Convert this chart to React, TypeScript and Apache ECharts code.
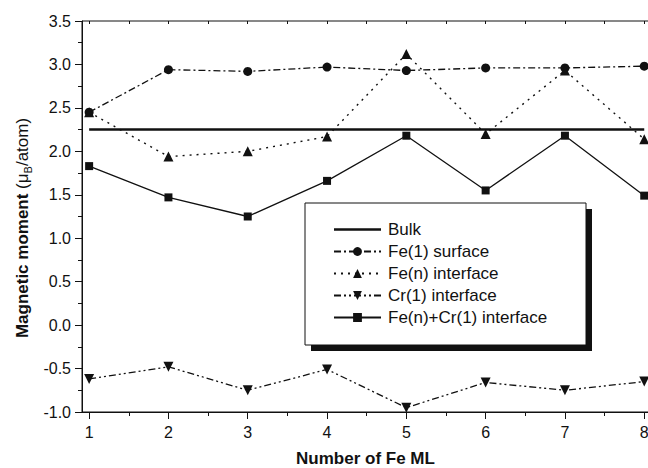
import React, { useEffect, useRef } from "react";
import * as echarts from "echarts";

// Number of Fe monolayers
const feLayers = [1, 2, 3, 4, 5, 6, 7, 8];
const halfTicks = [1.5, 2.5, 3.5, 4.5, 5.5, 6.5, 7.5];
const allTicks = [1, 1.5, 2, 2.5, 3, 3.5, 4, 4.5, 5, 5.5, 6, 6.5, 7, 7.5, 8];

// Magnetic moments (μB/atom)
const bulkMoment = 2.25;
const fe1Surface = [2.45, 2.94, 2.92, 2.97, 2.93, 2.96, 2.96, 2.98];
const feNInterface = [2.45, 1.94, 2.0, 2.17, 3.12, 2.2, 2.93, 2.14];
const cr1Interface = [-0.62, -0.48, -0.75, -0.51, -0.95, -0.66, -0.75, -0.65];
const feNCr1Interface = [1.83, 1.47, 1.25, 1.66, 2.18, 1.55, 2.18, 1.49];

const FONT = "'Liberation Sans', Arial, Helvetica, sans-serif";
const INK = "#111";

// Plain bar icon for the bulk entry: two tiny corner squares keep the
// icon's box 11px tall so the bar stays thin and centred.
const BULK_ICON =
  "path://M0,0h0.01v0.01h-0.01z M0,4.3H47V6.7H0Z M46.99,10.99h0.01v0.01h-0.01z";

const legendData = [
  { name: "Bulk", icon: BULK_ICON },
  { name: "Fe(1) surface" },
  { name: "Fe(n) interface" },
  { name: "Cr(1) interface" },
  { name: "Fe(n)+Cr(1) interface" },
];

const pairs = (ys: number[]) => feLayers.map((x, i) => [x, ys[i]]);

export default function App() {
  const ref = useRef<HTMLDivElement>(null);

  useEffect(() => {
    if (!ref.current) return;
    const chart = echarts.init(ref.current, undefined, { renderer: "svg" });
    const xMin = 0.91;
    const xMax = 8.06;
    const tickLine = { color: INK, width: 1 };

    chart.setOption({
      animation: false,
      textStyle: { fontFamily: FONT, color: INK },
      grid: {
        left: 82,
        top: 21,
        width: 567,
        height: 391,
        show: true,
        borderColor: INK,
        borderWidth: 1,
        outerBoundsMode: "none",
      },
      xAxis: [
        {
          type: "value",
          min: xMin,
          max: xMax,
          position: "bottom",
          axisLine: { show: true, onZero: false, lineStyle: tickLine },
          axisTick: { show: true, customValues: feLayers, length: 7, lineStyle: tickLine },
          axisLabel: {
            customValues: feLayers,
            formatter: (v: number) => String(Math.round(v)),
            margin: 12,
            fontSize: 16,
            fontFamily: FONT,
            color: INK,
          },
          splitLine: { show: false },
          name: "Number of Fe ML",
          nameLocation: "middle",
          nameGap: 38,
          nameTextStyle: { fontWeight: "bold", fontSize: 17, fontFamily: FONT, color: INK },
        },
        {
          type: "value",
          min: xMin,
          max: xMax,
          position: "bottom",
          axisLine: { show: false, onZero: false },
          axisTick: { show: true, customValues: halfTicks, length: 4, lineStyle: tickLine },
          axisLabel: { show: false },
          splitLine: { show: false },
        },
        {
          type: "value",
          min: xMin,
          max: xMax,
          position: "top",
          axisLine: { show: false, onZero: false },
          axisTick: { show: true, inside: true, customValues: allTicks, length: 3, lineStyle: tickLine },
          axisLabel: { show: false },
          splitLine: { show: false },
        },
      ],
      yAxis: {
        type: "value",
        min: -1,
        max: 3.5,
        interval: 0.5,
        axisLine: { show: true, onZero: false, lineStyle: tickLine },
        axisTick: { show: true, length: 7, lineStyle: tickLine },
        minorTick: { show: true, splitNumber: 2, length: 4, lineStyle: tickLine },
        axisLabel: {
          formatter: (v: number) => v.toFixed(1),
          margin: 11,
          fontSize: 16,
          fontFamily: FONT,
          color: INK,
        },
        splitLine: { show: false },
        minorSplitLine: { show: false },
      },
      legend: {
        data: legendData,
        orient: "vertical",
        left: 333,
        top: 221,
        padding: 0,
        itemWidth: 47,
        itemHeight: 11,
        itemGap: 5,
        selectedMode: false,
        z: 10,
        textStyle: { fontSize: 17, fontFamily: FONT, color: INK, padding: [0, 0, 0, 2] },
      },
      graphic: [
        {
          type: "rect",
          z: 5,
          shape: { x: 311, y: 209, width: 281, height: 142 },
          style: { fill: INK },
        },
        {
          type: "rect",
          z: 6,
          shape: { x: 305, y: 203, width: 281, height: 142 },
          style: { fill: "#fff", stroke: INK, lineWidth: 1 },
        },
        {
          type: "text",
          x: 22,
          y: 228,
          rotation: Math.PI / 2,
          style: {
            text: "{b|Magnetic moment }{n|(μ}{s|B}{n|/atom)}",
            align: "center",
            verticalAlign: "middle",
            fill: INK,
            rich: {
              b: { fontFamily: FONT, fontWeight: "bold", fontSize: 17, lineHeight: 22, fill: INK, verticalAlign: "middle" },
              n: { fontFamily: FONT, fontSize: 17, lineHeight: 22, fill: INK, verticalAlign: "middle" },
              s: { fontFamily: FONT, fontSize: 11, lineHeight: 11, fill: INK, verticalAlign: "bottom" },
            },
          },
        },
      ],
      series: [
        {
          name: "Bulk",
          type: "line",
          data: [
            [feLayers[0], bulkMoment],
            [feLayers[feLayers.length - 1], bulkMoment],
          ],
          symbol: "none",
          lineStyle: { color: INK, width: 2.5 },
          itemStyle: { color: INK },
        },
        {
          name: "Fe(1) surface",
          type: "line",
          data: pairs(fe1Surface),
          symbol: "circle",
          symbolSize: 9,
          lineStyle: { color: INK, width: 1.3, type: [7, 3, 2, 3] },
          itemStyle: { color: INK },
        },
        {
          name: "Fe(n) interface",
          type: "line",
          data: pairs(feNInterface),
          symbol: "triangle",
          symbolSize: 10,
          lineStyle: { color: INK, width: 1.4, type: [2, 5] },
          itemStyle: { color: INK },
        },
        {
          name: "Cr(1) interface",
          type: "line",
          data: pairs(cr1Interface),
          symbol: "triangle",
          symbolRotate: 180,
          symbolSize: 10,
          lineStyle: { color: INK, width: 1.3, type: [7, 3, 2, 3, 2, 3] },
          itemStyle: { color: INK },
        },
        {
          name: "Fe(n)+Cr(1) interface",
          type: "line",
          data: pairs(feNCr1Interface),
          symbol: "rect",
          symbolSize: 8,
          lineStyle: { color: INK, width: 1.3 },
          itemStyle: { color: INK },
        },
      ],
    });

    return () => chart.dispose();
  }, []);

  return (
    <div
      ref={ref}
      style={{ position: "fixed", left: 0, top: 0, width: 648, height: 468, background: "#fff" }}
    />
  );
}
